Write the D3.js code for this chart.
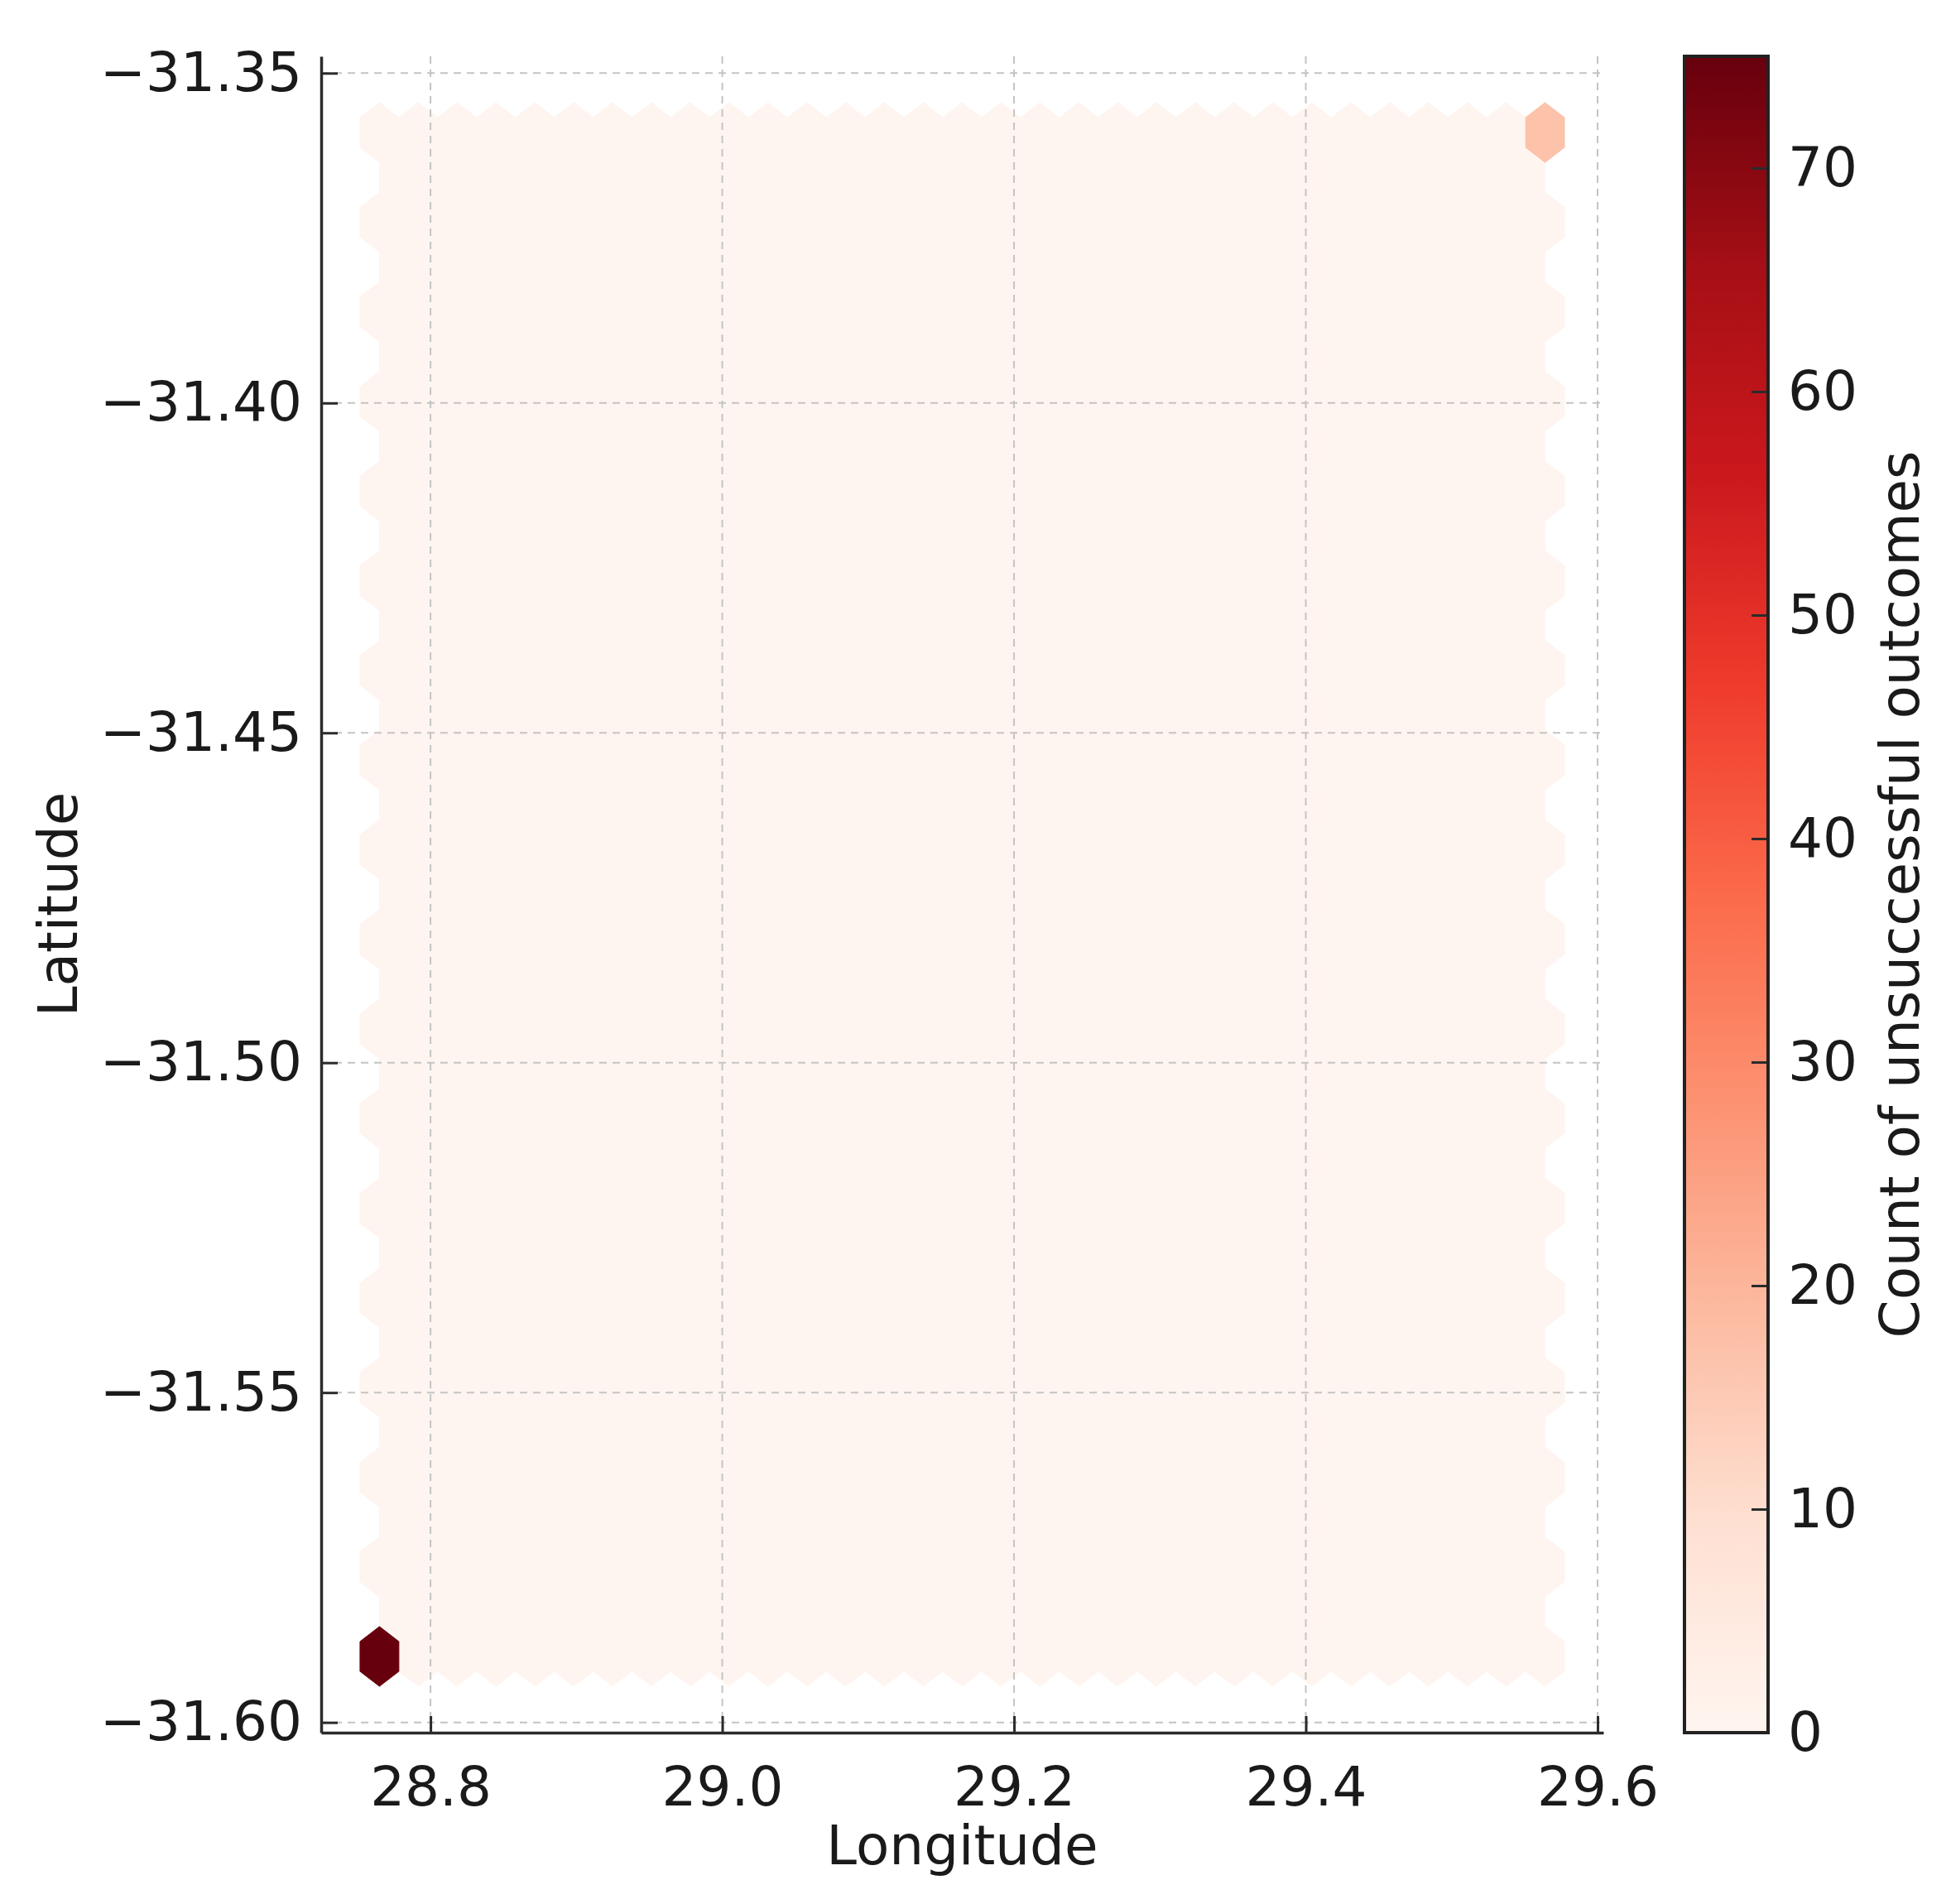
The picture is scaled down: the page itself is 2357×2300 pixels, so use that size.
<!DOCTYPE html>
<html><head><meta charset="utf-8">
<script src="https://cdn.jsdelivr.net/npm/d3@7"></script>
<style>
body{margin:0;background:#fff}
text{font-family:"DejaVu Sans",sans-serif;fill:#1a1a1a}
</style>
</head><body><svg id="chart" width="2357" height="2300"></svg>
<script>
// ---- data ----
const pointLon = [28.765, 29.564];          // locations with outcomes
const pointLat = [-31.590, -31.359];
const pointCount = [75, 17];                // unsuccessful outcomes at each location
const lonExtent = [28.765, 29.564];         // data extent used for the hex grid
const latExtent = [-31.590, -31.359];
const gridSize = 30;
const xTicks = [28.8, 29.0, 29.2, 29.4, 29.6];
const yTicks = [-31.60, -31.55, -31.50, -31.45, -31.40, -31.35];
const cbTicks = [0, 10, 20, 30, 40, 50, 60, 70];
const colorMax = 75;
const redsStops = ["#fff5f0","#fee0d2","#fcbba1","#fc9272","#fb6a4a","#ef3b2c","#cb181d","#a50f15","#67000d"];

const svg = d3.select("#chart");
const FS = 66;
const plot = {left: 388, right: 1937, top: 68, bottom: 2093};

const xr = lonExtent[1] - lonExtent[0], yr = latExtent[1] - latExtent[0];
const x = d3.scaleLinear().domain([lonExtent[0] - 0.05*xr, lonExtent[1] + 0.05*xr]).range([plot.left, plot.right]);
const y = d3.scaleLinear().domain([latExtent[0] - 0.05*yr, latExtent[1] + 0.05*yr]).range([plot.bottom, plot.top]);

const color = d3.scaleLinear()
  .domain(redsStops.map((_, i) => i / (redsStops.length - 1) * colorMax))
  .range(redsStops).interpolate(d3.interpolateRgb).clamp(true);

// ---- hexbin (matplotlib-style lattice) ----
const nx = gridSize, ny = Math.floor(nx / Math.sqrt(3));
const sx = xr / nx, sy = yr / ny;
const cells = new Map();
function key(l, i, j){ return l + ":" + i + ":" + j; }
for (let i = 0; i <= nx; i++) for (let j = 0; j <= ny; j++)
  cells.set(key(1,i,j), {cx: lonExtent[0] + i*sx, cy: latExtent[0] + j*sy, v: 0});
for (let i = 0; i < nx; i++) for (let j = 0; j < ny; j++)
  cells.set(key(2,i,j), {cx: lonExtent[0] + (i+0.5)*sx, cy: latExtent[0] + (j+0.5)*sy, v: 0});
pointLon.forEach((lon, k) => {
  const px = (lon - lonExtent[0]) / sx, py = (pointLat[k] - latExtent[0]) / sy;
  const ix1 = Math.round(px), iy1 = Math.round(py);
  const ix2 = Math.floor(px), iy2 = Math.floor(py);
  const d1 = (px-ix1)**2 + 3*(py-iy1)**2;
  const d2 = (px-ix2-0.5)**2 + 3*(py-iy2-0.5)**2;
  const c = d1 < d2 ? cells.get(key(1,ix1,iy1)) : cells.get(key(2,ix2,iy2));
  if (c) c.v += pointCount[k];
});
const hexOff = [[.5,-.5],[.5,.5],[0,1],[-.5,.5],[-.5,-.5],[0,-1]].map(([a,b]) => [a*sx, b*sy/3]);
const hexes = Array.from(cells.values()).sort((a,b) => a.v - b.v);
svg.append("g").selectAll("path").data(hexes).join("path")
  .attr("d", d => "M" + hexOff.map(([dx,dy]) => [x(d.cx+dx), y(d.cy+dy)].join(",")).join("L") + "Z")
  .attr("fill", d => color(d.v)).attr("stroke", d => color(d.v)).attr("stroke-width", 1);

// ---- grid ----
const grid = svg.append("g").attr("stroke", "#c4c4c4").attr("stroke-width", 2).attr("stroke-dasharray", "9,7");
grid.selectAll(".gx").data(xTicks).join("line")
  .attr("x1", d => x(d)).attr("x2", d => x(d)).attr("y1", plot.top).attr("y2", plot.bottom);
grid.selectAll(".gy").data(yTicks).join("line")
  .attr("y1", d => y(d)).attr("y2", d => y(d)).attr("x1", plot.left).attr("x2", plot.right);

// ---- axes (inward ticks) ----
const fmtX = d3.format(".1f"), fmtY = v => d3.format(".2f")(v).replace("-", "\u2212");
const xAxis = svg.append("g").attr("transform", `translate(0,${plot.bottom})`)
  .call(d3.axisBottom(x).tickValues(xTicks).tickFormat(fmtX).tickSizeInner(-20).tickSizeOuter(0).tickPadding(40));
const yAxis = svg.append("g").attr("transform", `translate(${plot.left},0)`)
  .call(d3.axisLeft(y).tickValues(yTicks).tickFormat(fmtY).tickSizeInner(-20).tickSizeOuter(0).tickPadding(23));
[xAxis, yAxis].forEach(a => {
  a.select(".domain").attr("stroke", "#2b2b2b").attr("stroke-width", 3.5);
  a.selectAll(".tick line").attr("stroke", "#2b2b2b").attr("stroke-width", 3);
  a.selectAll(".tick text").attr("font-size", FS).attr("font-family", '"DejaVu Sans",sans-serif').attr("fill", "#1a1a1a");
});
xAxis.selectAll(".tick text").attr("dy", "0.72em");

svg.append("text").attr("x", (plot.left + plot.right) / 2).attr("y", 2252)
  .attr("text-anchor", "middle").attr("font-size", FS).text("Longitude");
svg.append("text").attr("transform", `translate(93,${(plot.top + plot.bottom) / 2 + 12}) rotate(-90)`)
  .attr("text-anchor", "middle").attr("font-size", FS).text("Latitude");

// ---- colorbar ----
const cb = {x: 2035, w: 101, top: 68, bottom: 2093};
const cy = d3.scaleLinear().domain([0, colorMax]).range([cb.bottom, cb.top]);
const grad = svg.append("defs").append("linearGradient").attr("id", "cbgrad")
  .attr("x1", 0).attr("x2", 0).attr("y1", 1).attr("y2", 0);
grad.selectAll("stop").data(redsStops).join("stop")
  .attr("offset", (d, i) => i / (redsStops.length - 1)).attr("stop-color", d => d);
svg.append("rect").attr("x", cb.x).attr("y", cb.top).attr("width", cb.w).attr("height", cb.bottom - cb.top)
  .attr("fill", "url(#cbgrad)");
const cbAxis = svg.append("g").attr("transform", `translate(${cb.x + cb.w},0)`)
  .call(d3.axisRight(cy).tickValues(cbTicks).tickFormat(d3.format("d")).tickSizeInner(-20).tickSizeOuter(0).tickPadding(24));
cbAxis.select(".domain").remove();
cbAxis.selectAll(".tick line").attr("stroke", "#2b2b2b").attr("stroke-width", 3);
cbAxis.selectAll(".tick text").attr("font-size", FS).attr("font-family", '"DejaVu Sans",sans-serif').attr("fill", "#1a1a1a");
svg.append("rect").attr("x", cb.x).attr("y", cb.top).attr("width", cb.w).attr("height", cb.bottom - cb.top)
  .attr("fill", "none").attr("stroke", "#222").attr("stroke-width", 4);
svg.append("text").attr("transform", `translate(2318,${(cb.top + cb.bottom) / 2}) rotate(-90)`)
  .attr("text-anchor", "middle").attr("font-size", FS).text("Count of unsuccessful outcomes");
</script>
</body></html>
